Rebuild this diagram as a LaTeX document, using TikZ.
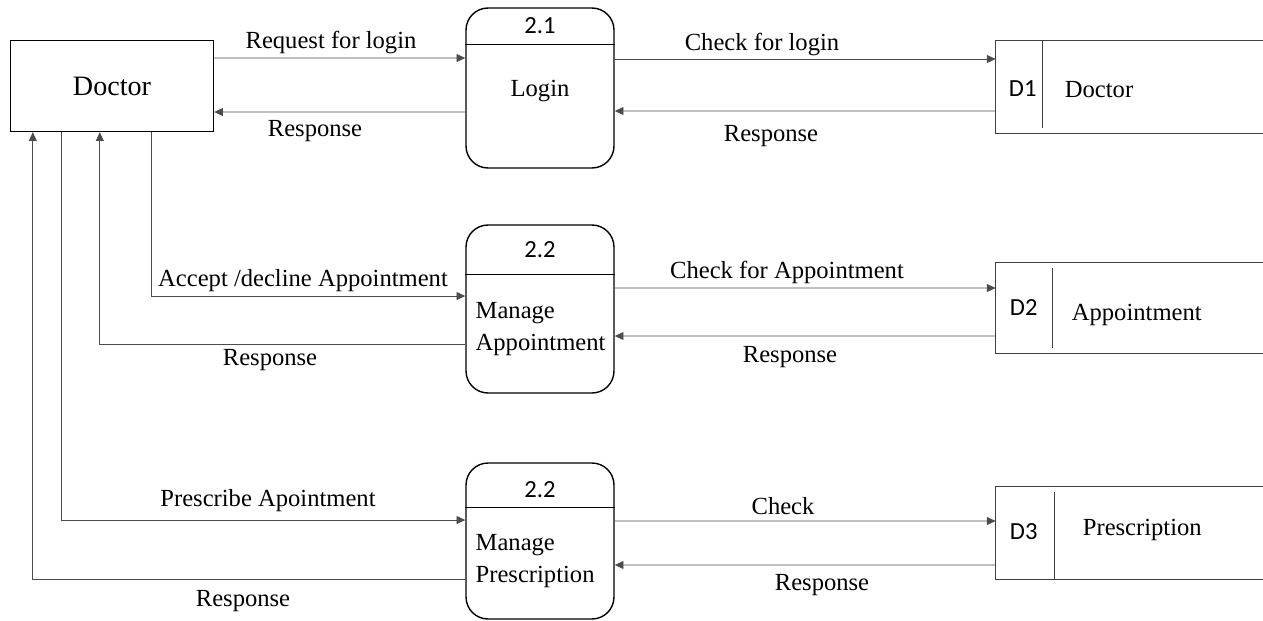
\documentclass[tikz,border=0pt]{standalone}
\usepackage{fontspec}
\setmainfont{Liberation Serif}
\newfontfamily\idfont{Carlito}
\usetikzlibrary{arrows.meta}
\begin{document}
\begin{tikzpicture}[
    x=0.02cm, y=0.02cm,
    every node/.style={font=\fontsize{14pt}{18pt}\selectfont},
    entidad/.style={draw, line width=0.8pt, minimum width=4.06cm, minimum height=1.82cm, font=\fontsize{16pt}{18pt}\selectfont},
    proceso/.style={draw, line width=0.8pt, rounded corners=0.44cm, minimum width=2.96cm},
    almacen/.style={minimum width=5.34cm},
    borde/.style={black!75, line width=0.6pt},
    flujo/.style={black!70, line width=0.5pt, -{Triangle[length=5pt, width=4.5pt]}},
    ident/.style={font=\idfont\fontsize{14pt}{16pt}\selectfont}
]
\useasboundingbox (0,0) rectangle (1263,-620);
% Entidad externa
\node[entidad] (doctor) at (112,-86) {Doctor};
% Procesos
\node[proceso, minimum height=3.2cm] (proc1) at (540,-88) {};
\node[proceso, minimum height=3.36cm] (proc2) at (540,-309) {};
\node[proceso, minimum height=3.12cm] (proc3) at (540,-541) {};
\draw[line width=0.6pt] ([yshift=-0.74cm]proc1.north west) -- ([yshift=-0.74cm]proc1.north east);
\draw[line width=0.6pt] ([yshift=-1.0cm]proc2.north west) -- ([yshift=-1.0cm]proc2.north east);
\draw[line width=0.6pt] ([yshift=-0.9cm]proc3.north west) -- ([yshift=-0.9cm]proc3.north east);
\node[ident] (id1) at ([yshift=-0.36cm]proc1.north) {2.1};
\node[ident] (id2) at ([yshift=-0.5cm]proc2.north) {2.2};
\node[ident] (id3) at ([yshift=-0.54cm]proc3.north) {2.2};
\node (txt1) at ([yshift=-0.06cm]proc1.center) {Login};
\node[anchor=west, align=left, inner sep=0pt] (txt2) at ([xshift=0.2cm, yshift=-0.4cm]proc2.west) {Manage\\Appointment};
\node[anchor=west, align=left, inner sep=0pt] (txt3) at ([xshift=0.2cm, yshift=-0.4cm]proc3.west) {Manage\\Prescription};
% Almacenes
\node[almacen, minimum height=1.84cm] (store1) at (1129.5,-87) {};
\node[almacen, minimum height=1.8cm] (store2) at (1129.5,-308) {};
\node[almacen, minimum height=1.84cm] (store3) at (1129.5,-533) {};
\draw[borde] (store1.north east) -- (store1.north west) -- (store1.south west) -- (store1.south east);
\draw[borde] (store2.north east) -- (store2.north west) -- (store2.south west) -- (store2.south east);
\draw[borde] (store3.north east) -- (store3.north west) -- (store3.south west) -- (store3.south east);
\draw[borde] ([xshift=0.94cm]store1.north west) -- ([xshift=0.94cm, yshift=0.1cm]store1.south west);
\draw[borde] ([xshift=1.14cm, yshift=-0.1cm]store2.north west) -- ([xshift=1.14cm, yshift=0.1cm]store2.south west);
\draw[borde] ([xshift=1.18cm, yshift=-0.1cm]store3.north west) -- ([xshift=1.18cm]store3.south west);
\node[ident] (d1) at ([xshift=0.54cm, yshift=-0.04cm]store1.west) {D1};
\node[ident] (d2) at ([xshift=0.56cm]store2.west) {D2};
\node[ident] (d3) at ([xshift=0.56cm, yshift=0.02cm]store3.west) {D3};
\node[anchor=west] (name1) at ([xshift=1.26cm, yshift=-0.06cm]store1.west) {Doctor};
\node[anchor=west] (name2) at ([xshift=1.4cm, yshift=-0.14cm]store2.west) {Appointment};
\node[anchor=west] (name3) at ([xshift=1.62cm, yshift=0.06cm]store3.west) {Prescription};
% Flujos
\draw[flujo] ([yshift=0.56cm]doctor.east) -- ([yshift=0.6cm]proc1.west);
\draw[flujo] ([yshift=-0.48cm]proc1.west) -- ([yshift=-0.52cm]doctor.east);
\draw[flujo] ([yshift=0.58cm]proc1.east) -- ([yshift=0.56cm]store1.west);
\draw[flujo] ([yshift=-0.48cm]store1.west) -- ([yshift=-0.46cm]proc1.east);
\draw[flujo] ([xshift=2.84cm]doctor.south west) |- ([yshift=0.26cm]proc2.west);
\draw[flujo] ([yshift=-0.7cm]proc2.west) -| ([xshift=1.8cm]doctor.south west);
\draw[flujo] ([yshift=0.42cm]proc2.east) -- ([yshift=0.4cm]store2.west);
\draw[flujo] ([yshift=-0.56cm]store2.west) -- ([yshift=-0.54cm]proc2.east);
\draw[flujo] ([xshift=1.04cm]doctor.south west) |- ([yshift=0.42cm]proc3.west);
\draw[flujo] ([yshift=-0.76cm]proc3.west) -| ([xshift=0.46cm]doctor.south west);
\draw[flujo] ([yshift=0.4cm]proc3.east) -- ([yshift=0.24cm]store3.west);
\draw[flujo] ([yshift=-0.64cm]store3.west) -- ([yshift=-0.48cm]proc3.east);
% Etiquetas
\node (lblReq) at (331,-42) {Request for login};
\node (lblResp1) at (315,-131) {Response};
\node (lblCheck1) at (762,-44) {Check for login};
\node (lblResp2) at (771,-136) {Response};
\node (lblAccept) at (303,-281) {Accept /decline Appointment};
\node (lblResp3) at (270,-360) {Response};
\node (lblCheck2) at (787,-272) {Check for Appointment};
\node (lblResp4) at (790,-357) {Response};
\node (lblPresc) at (268,-501) {Prescribe Apointment};
\node (lblResp5) at (243,-601) {Response};
\node (lblCheck3) at (783,-506) {Check};
\node (lblResp6) at (822,-585) {Response};
\end{tikzpicture}
\end{document}
